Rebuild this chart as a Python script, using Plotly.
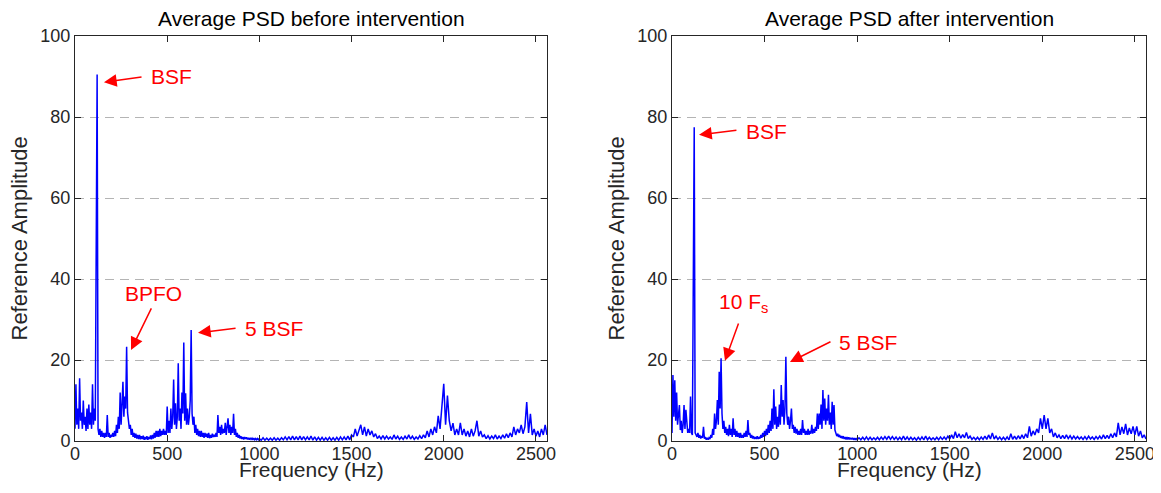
import numpy as np
import plotly.graph_objects as go

# Average PSD amplitudes.
# 5 Hz bins from 0 to 1000 Hz, then 10 Hz bins from 1010 to 2560 Hz.
before_low = [
    3, 14, 4, 8, 3, 15.5, 5, 7, 3, 10,
    4, 6, 2.5, 8, 3, 9, 4, 7, 3, 14,
    4, 8, 5, 70, 90.5, 3, 1.5, 3, 1, 2.5,
    1, 2, 0.8, 2, 1, 6.4, 1, 2, 0.8, 1.5,
    1, 2, 1, 2.5, 1.2, 4, 2, 6, 3, 12,
    4, 9, 14.6, 6, 11, 8, 23.3, 7, 5, 3,
    4, 1.5, 3, 1, 2, 0.8, 1.8, 0.6, 1.5, 0.5,
    1.5, 0.4, 1.2, 0.5, 1.3, 0.3, 1, 0.4, 1.2, 0.3,
    1, 0.5, 1.4, 0.4, 1.5, 0.6, 2, 0.8, 2.5, 1,
    2.5, 1, 3, 1.2, 2.5, 1.5, 3, 1.5, 2.5, 1.5,
    8.5, 2, 5, 2, 8, 3, 6, 15.2, 4, 9.3,
    3, 6, 19.2, 5, 8, 3, 12, 6.8, 24.3, 5,
    11.8, 4, 8, 4, 6, 10, 27.4, 6.8, 4, 6,
    2, 4, 1.5, 3, 1.2, 2.5, 1, 2.5, 1, 2,
    0.8, 2, 1, 1.8, 0.8, 2, 0.7, 1.5, 0.8, 1.8,
    1, 1.5, 1, 2, 1, 6.4, 2, 3.5, 1.5, 4,
    1.8, 3, 2, 4.5, 1.5, 3, 5.6, 2, 4, 1.5,
    3.5, 2, 6.7, 1.5, 3, 1, 2, 0.8, 1.5, 0.6,
    1.2, 0.5, 1, 0.4, 1, 0.5, 0.9, 0.4, 0.8, 0.3,
    0.8, 0.4, 0.7, 0.3, 0.7, 0.3, 0.6, 0.3, 0.6, 0.3,
    0.6,
]
before_high = [
    0.2, 0.8, 0.2, 0.7, 0.2, 0.7, 0.2, 0.8, 0.2, 0.7,
    0.2, 0.8, 0.3, 1.0, 0.3, 1.1, 0.3, 1.2, 0.3, 1.1,
    0.3, 1.2, 0.3, 1.1, 0.3, 1.0, 0.3, 1.2, 0.2, 1.0,
    0.2, 0.9, 0.2, 0.9, 0.2, 0.8, 0.2, 0.9, 0.2, 0.8,
    0.2, 0.9, 0.2, 1.0, 0.3, 1.0, 0.3, 1.2, 0.3, 1.5,
    1, 3, 1.2, 2.8, 4, 1.5, 3.5, 1.2, 3, 1.5,
    2.5, 1, 1.8, 0.6, 1.2, 0.5, 1.3, 0.5, 1.2, 0.5,
    1, 0.4, 1.5, 0.5, 1.2, 0.4, 1, 0.4, 1.2, 0.5,
    1.5, 0.5, 1.2, 0.4, 1, 0.5, 1.3, 0.6, 1.5, 0.8,
    2.5, 1, 3, 1.5, 3.5, 2, 6.2, 3, 8.5, 14.1,
    4, 11.2, 5, 2.5, 4.4, 1.5, 3, 1.5, 4.5, 1.5,
    3, 1.2, 2.5, 1, 3, 1.2, 2.5, 5, 1.2, 2.5,
    1, 1.5, 0.6, 1.3, 0.5, 1.2, 0.6, 1.5, 0.5, 1.2,
    0.6, 1.5, 0.7, 1.8, 0.8, 2, 1, 3.5, 1.5, 3,
    2, 4, 1.8, 3.5, 9.6, 2, 6.7, 1.5, 3, 1.2,
    2.5, 1, 3, 1.5, 4, 1.5,
]
after_low = [
    2, 16.3, 6, 15, 5, 12, 4, 7, 8.9, 2.7,
    5, 2, 4, 8.9, 3, 7.7, 4.4, 2, 3, 2,
    11, 2, 1.5, 40, 77.5, 2, 1.5, 1, 2, 0.8,
    1.5, 0.6, 1.2, 0.8, 3.5, 0.6, 1, 0.3, 0.8, 0.3,
    0.8, 0.5, 1.5, 0.8, 3, 1.5, 6.8, 3, 5, 10.1,
    4, 17.1, 8, 20.4, 6.8, 3, 5, 2, 3.5, 1.5,
    3, 1.2, 4, 1.5, 3, 1, 5.6, 1.5, 3, 1,
    2.5, 1, 2, 0.8, 2, 0.8, 1.5, 0.8, 2, 1,
    2.5, 1, 5.2, 1.5, 2, 0.8, 1.5, 0.6, 1.2, 0.5,
    1, 0.5, 1.2, 0.5, 1, 0.6, 1.5, 0.8, 2, 1,
    2.5, 1.2, 3, 1.5, 4, 2, 5, 2.5, 8, 3,
    12.8, 4, 8.5, 3, 6, 3.5, 9, 4, 13.8, 6,
    10.1, 4, 8, 20.8, 6.8, 4, 6, 3, 5, 8,
    3, 4, 2, 3.5, 1.8, 3, 1.5, 2.5, 1.5, 3,
    1.5, 5.2, 2, 3, 1.5, 2.5, 1.5, 3, 1.5, 2.5,
    1.8, 4, 1.8, 3, 2, 3.5, 2.5, 6.8, 3, 6.8,
    4, 9, 3, 12.6, 5, 10.5, 4, 8, 5, 11.4,
    4, 7, 3, 9.7, 4, 8.9, 2.7, 2, 1.2, 1.8,
    1, 1.5, 0.8, 1.2, 0.6, 1.2, 0.5, 1, 0.4, 1,
    0.4, 0.9, 0.4, 0.8, 0.4, 0.8, 0.3, 0.7, 0.3, 0.7,
    0.3,
]
after_high = [
    0.8, 0.3, 0.9, 0.3, 1.0, 0.3, 0.9, 0.3, 0.8, 0.3,
    0.9, 0.3, 1.0, 0.4, 1.1, 0.4, 1.2, 0.4, 1.1, 0.4,
    1.0, 0.3, 0.9, 0.3, 1.2, 0.3, 1.0, 0.3, 0.9, 0.3,
    0.8, 0.2, 0.9, 0.3, 1.0, 0.3, 1.2, 0.3, 0.9, 0.3,
    0.8, 0.3, 0.9, 0.3, 1.0, 0.4, 1.0, 0.4, 1.2, 0.5,
    1.5, 0.6, 2.3, 0.8, 1.8, 0.7, 1.6, 0.8, 2.1, 0.6,
    1.2, 0.4, 0.9, 0.3, 0.9, 0.3, 1.0, 0.4, 1.2, 0.4,
    1.5, 0.5, 2.0, 0.5, 1.2, 0.4, 1.0, 0.3, 0.9, 0.3,
    1.0, 0.3, 1.8, 0.4, 1.2, 0.4, 1.3, 0.5, 1.5, 0.6,
    1.8, 0.8, 3.6, 1.2, 2.5, 1.5, 3, 2, 5.6, 3,
    6.4, 3, 5.6, 2, 3, 1, 2, 0.8, 1.5, 0.6,
    1.4, 0.6, 1.5, 0.6, 1.3, 0.5, 1.2, 0.5, 1.1, 0.5,
    1.0, 0.4, 1.1, 0.4, 1.2, 0.5, 1.0, 0.4, 1.1, 0.5,
    1.2, 0.5, 1.5, 0.6, 1.4, 0.6, 1.8, 0.8, 2, 1,
    4.5, 1.5, 3.5, 1.8, 4.2, 1.5, 3.2, 1.8, 3.6, 1.5,
    3.6, 1.2, 2.5, 0.8, 1.5, 0.5,
]

titles = ["Average PSD before intervention", "Average PSD after intervention"]
x_ticks = [0, 500, 1000, 1500, 2000, 2500]
y_ticks = [0, 20, 40, 60, 80, 100]


def freq_bins(low, high):
    return np.concatenate([np.arange(len(low)) * 5, 1010 + np.arange(len(high)) * 10])


FONT = "Liberation Sans, Arial, sans-serif"
INK = "#262626"
RED = "#ff0000"

# the page body adds an 8px margin on every side, so the figure is laid
# out in window pixels minus 8 and sized to fit inside the window
OFF = 8
W, H = 1161 - 2 * OFF, 493 - 2 * OFF
ML, MT = 75 - OFF, 36 - OFF
MR, MB = W - (1146 - OFF), H - (441 - OFF)
PW, PH = W - ML - MR, H - MT - MB


def px(x):
    return (x - OFF - ML) / PW


def py(y):
    return (H - MB - (y - OFF)) / PH


fig = go.Figure()
fig.add_trace(go.Scatter(x=freq_bins(before_low, before_high), y=before_low + before_high,
                         mode="lines", line=dict(color="#0000ff", width=1.5),
                         xaxis="x", yaxis="y", showlegend=False))
fig.add_trace(go.Scatter(x=freq_bins(after_low, after_high), y=after_low + after_high,
                         mode="lines", line=dict(color="#0000ff", width=1.5),
                         xaxis="x2", yaxis="y2", showlegend=False))

domains = [(px(75), px(547)), (px(672), px(1146))]

axis_common = dict(showline=True, linecolor=INK, linewidth=1, mirror="ticks",
                   ticks="inside", ticklen=6, tickcolor=INK, zeroline=False,
                   automargin=False, ticklabeloverflow="allow",
                   tickfont=dict(family=FONT, size=18, color=INK))
for i, sfx in enumerate(["", "2"]):
    fig.update_layout(**{
        "xaxis" + sfx: dict(axis_common, domain=domains[i], range=[0, 2560],
                            tickvals=x_ticks, showgrid=False, ticklabelstandoff=-4,
                            anchor="y" + sfx),
        "yaxis" + sfx: dict(axis_common, domain=(0, 1), range=[0, 100],
                            tickvals=y_ticks, showgrid=True, gridcolor="#b4b4b4",
                            griddash="9px,6px", gridwidth=1, anchor="x" + sfx),
    })

ann = []
for i, t in enumerate(titles):
    cx = (domains[i][0] + domains[i][1]) / 2
    ann.append(dict(text=t, x=cx, y=py(19), xref="paper", yref="paper",
                    xanchor="center", yanchor="middle",
                    showarrow=False, font=dict(family=FONT, size=21, color="#000")))
    ann.append(dict(text="Frequency (Hz)", x=cx, y=py(470), xref="paper", yref="paper",
                    xanchor="center", yanchor="middle",
                    showarrow=False, font=dict(family=FONT, size=21, color=INK)))
for xl in (19, 616):
    ann.append(dict(text="Reference Amplitude", x=px(xl), y=0.5,
                    xref="paper", yref="paper", textangle=-90, showarrow=False,
                    xanchor="center", yanchor="middle",
                    font=dict(family=FONT, size=22, color=INK)))

# arrows: tip (x, y) <- tail (ax, ay), in data units
arrows = [
    ("x", "y", 157, 88.6, 369, 89.9),
    ("x", "y", 304, 22.5, 418, 33.1),
    ("x", "y", 667, 26.7, 879, 27.9),
    ("x2", "y2", 146, 75.6, 356, 76.8),
    ("x2", "y2", 286, 19.8, 362, 29.4),
    ("x2", "y2", 637, 19.5, 864, 24.7),
]
for xr, yr, x, y, axv, ayv in arrows:
    ann.append(dict(x=x, y=y, ax=axv, ay=ayv, xref=xr, yref=yr, axref=xr, ayref=yr,
                    text="", showarrow=True, arrowhead=2, arrowsize=1.7,
                    arrowwidth=1.5, arrowcolor=RED, standoff=0))

labels = [
    ("x", "y", 401, 89.9, "BSF", "left"),
    ("x", "y", 426, 36.5, "BPFO", "center"),
    ("x", "y", 911, 27.7, "5 BSF", "left"),
    ("x2", "y2", 389, 76.3, "BSF", "left"),
    ("x2", "y2", 243, 34.0, "10 F<sub>s</sub>", "left"),
    ("x2", "y2", 891, 24.4, "5 BSF", "left"),
]
for xr, yr, x, y, t, xa in labels:
    ann.append(dict(x=x, y=y, xref=xr, yref=yr, text=t, xanchor=xa, yanchor="middle",
                    showarrow=False, font=dict(family=FONT, size=21, color=RED)))

fig.update_layout(width=W, height=H, margin=dict(l=ML, r=MR, t=MT, b=MB),
                  paper_bgcolor="white", plot_bgcolor="white",
                  annotations=ann, showlegend=False)

fig.write_html("out.html")
